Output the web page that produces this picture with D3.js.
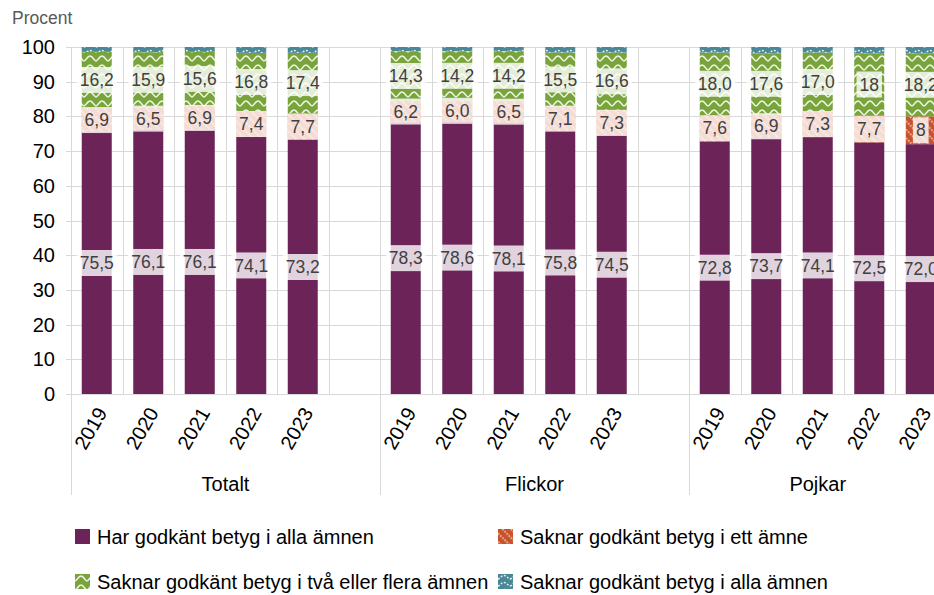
<!DOCTYPE html>
<html>
<head>
<meta charset="utf-8">
<script src="https://cdn.jsdelivr.net/npm/d3@7"></script>
<style>
  body { margin: 0; background: #fff; }
  svg { font-family: "Liberation Sans", Arial, sans-serif; display: block; }
</style>
</head>
<body>
<svg id="chart" width="934" height="595"></svg>
<script>
const groups = ["Totalt", "Flickor", "Pojkar"];
const years = ["2019", "2020", "2021", "2022", "2023"];

// values per group, years in order (Totalt, Flickor, Pojkar), as printed in the chart
const harGodkant = ["75,5", "76,1", "76,1", "74,1", "73,2",
                    "78,3", "78,6", "78,1", "75,8", "74,5",
                    "72,8", "73,7", "74,1", "72,5", "72,0"];
const saknarEtt = ["6,9", "6,5", "6,9", "7,4", "7,7",
                   "6,2", "6,0", "6,5", "7,1", "7,3",
                   "7,6", "6,9", "7,3", "7,7", "8"];
const saknarTvaPlus = ["16,2", "15,9", "15,6", "16,8", "17,4",
                       "14,3", "14,2", "14,2", "15,5", "16,6",
                       "18,0", "17,6", "17,0", "18", "18,2"];
// thin top segment, no labels in the chart
const saknarAlla = [1.4, 1.5, 1.4, 1.7, 1.7,
                    1.2, 1.2, 1.2, 1.6, 1.6,
                    1.6, 1.8, 1.6, 1.8, 1.8];
const yTicks = [0, 10, 20, 30, 40, 50, 60, 70, 80, 90, 100];

const seriesNames = [
  "Har godkänt betyg i alla ämnen",
  "Saknar godkänt betyg i ett ämne",
  "Saknar godkänt betyg i två eller flera ämnen",
  "Saknar godkänt betyg i alla ämnen"
];

const num = s => +String(s).replace(",", ".");

const rows = [];
groups.forEach((g, gi) => {
  years.forEach((yr, yi) => {
    const i = gi * years.length + yi;
    rows.push({
      slot: g + "|" + yr, group: g, year: yr,
      har: num(harGodkant[i]), ett: num(saknarEtt[i]),
      tva: num(saknarTvaPlus[i]), alla: saknarAlla[i],
      labels: { har: harGodkant[i], ett: saknarEtt[i], tva: saknarTvaPlus[i] }
    });
  });
});

// slots incl. an empty spacer after every group except the last
const slots = [];
groups.forEach((g, gi) => {
  years.forEach(yr => slots.push(g + "|" + yr));
  if (gi < groups.length - 1) slots.push(g + "|gap");
});

const plotLeft = 71, step = 51.5, plotTop = 47, plotBottom = 394;
const svg = d3.select("#chart");

const x = d3.scaleBand()
  .domain(slots)
  .range([plotLeft, plotLeft + slots.length * step])
  .paddingInner(0.4175)
  .paddingOuter(0.4175 / 2);
const y = d3.scaleLinear().domain([0, 100]).range([plotBottom, plotTop]);

// patterns
const defs = svg.append("defs");
const pEtt = defs.append("pattern").attr("id", "pat-ett")
  .attr("patternUnits", "userSpaceOnUse").attr("width", 6).attr("height", 6)
  .attr("patternTransform", "rotate(-45)");
pEtt.append("rect").attr("width", 6).attr("height", 6).attr("fill", "#c9522a");
pEtt.append("line").attr("x1", 3).attr("y1", 0).attr("x2", 3).attr("y2", 6)
  .attr("stroke", "#f3d7cc").attr("stroke-width", 1.2).attr("stroke-dasharray", "2,1");

const pTva = defs.append("pattern").attr("id", "pat-tva")
  .attr("patternUnits", "userSpaceOnUse").attr("width", 12).attr("height", 9);
pTva.append("rect").attr("width", 12).attr("height", 9).attr("fill", "#78a43b");
pTva.append("path").attr("d", "M0,7 C2,7 3,2 6,2 C9,2 10,7 12,7")
  .attr("fill", "none").attr("stroke", "#eef5e4").attr("stroke-width", 1.6);

const pAlla = defs.append("pattern").attr("id", "pat-alla")
  .attr("patternUnits", "userSpaceOnUse").attr("width", 12).attr("height", 7);
pAlla.append("rect").attr("width", 12).attr("height", 7).attr("fill", "#4a8797");
pAlla.append("path").attr("d", "M0,5 C2,5 3,1.5 6,1.5 C9,1.5 10,5 12,5")
  .attr("fill", "none").attr("stroke", "#e4f0f2").attr("stroke-width", 1.4)
  .attr("stroke-dasharray", "2,1.5");

const fills = ["#6b2358", "url(#pat-ett)", "url(#pat-tva)", "url(#pat-alla)"];

const gridColor = "#d9d9d9";

// horizontal gridlines + tick marks
svg.append("g").selectAll("line").data(yTicks).join("line")
  .attr("x1", plotLeft - 5).attr("x2", 934)
  .attr("y1", d => Math.round(y(d)) + 0.5).attr("y2", d => Math.round(y(d)) + 0.5)
  .attr("stroke", gridColor).attr("stroke-width", 1);

// vertical gridlines at every slot boundary
const bounds = d3.range(slots.length + 1).map(i => plotLeft + i * step);
svg.append("g").selectAll("line").data(bounds).join("line")
  .attr("x1", d => Math.round(d) + 0.5).attr("x2", d => Math.round(d) + 0.5)
  .attr("y1", plotTop).attr("y2", plotBottom)
  .attr("stroke", gridColor).attr("stroke-width", 1);

// group separators below the axis
const groupStarts = [0, 6, 12, 17].map(i => plotLeft + i * step);
svg.append("g").selectAll("line").data(groupStarts).join("line")
  .attr("x1", d => Math.round(d) + 0.5).attr("x2", d => Math.round(d) + 0.5)
  .attr("y1", plotBottom).attr("y2", 495)
  .attr("stroke", gridColor).attr("stroke-width", 1);

// y tick labels
svg.append("g").selectAll("text").data(yTicks).join("text")
  .attr("x", 55).attr("y", d => y(d)).attr("dy", "0.35em")
  .attr("text-anchor", "end").attr("font-size", 20).attr("fill", "#000")
  .text(d => d);

svg.append("text").attr("x", 12).attr("y", 24)
  .attr("font-size", 17.5).attr("fill", "#595959").text("Procent");

// stacked bars
const keys = ["har", "ett", "tva", "alla"];
const stacked = d3.stack().keys(keys)(rows);

const barG = svg.append("g");
stacked.forEach((layer, li) => {
  barG.append("g").selectAll("rect").data(layer).join("rect")
    .attr("x", d => x(d.data.slot))
    .attr("width", x.bandwidth())
    .attr("y", d => y(d[1]))
    .attr("height", d => y(d[0]) - y(d[1]))
    .attr("fill", fills[li]);
});

// data labels with white semi-transparent boxes
const labelG = svg.append("g");
stacked.slice(0, 3).forEach(layer => {
  const key = layer.key;
  layer.forEach(d => {
    const cx = x(d.data.slot) + x.bandwidth() / 2;
    const cy = y((d[0] + d[1]) / 2);
    const g = labelG.append("g");
    const box = g.append("rect");
    const t = g.append("text")
      .attr("x", cx).attr("y", cy).attr("dy", "0.35em")
      .attr("text-anchor", "middle").attr("font-size", 17.5).attr("fill", "#404040")
      .text(d.data.labels[key]);
    const bb = t.node().getBBox();
    box.attr("x", bb.x - 3).attr("y", cy - 13).attr("width", bb.width + 6).attr("height", 26)
      .attr("fill", "#fff").attr("fill-opacity", 0.8);
  });
});

// year labels
svg.append("g").selectAll("text").data(rows).join("text")
  .attr("transform", d => `translate(${x(d.slot) + x.bandwidth() / 2 + 5},${plotBottom + 15}) rotate(-60)`)
  .attr("text-anchor", "end").attr("dy", "0.35em")
  .attr("font-size", 20).attr("fill", "#000")
  .text(d => d.year);

// group labels
const groupSpans = [[0, 6], [6, 12], [12, 17]];
svg.append("g").selectAll("text").data(groups).join("text")
  .attr("x", (g, i) => plotLeft + (groupSpans[i][0] + groupSpans[i][1]) / 2 * step)
  .attr("y", 491).attr("text-anchor", "middle")
  .attr("font-size", 20).attr("fill", "#000")
  .text(g => g);

// legend
const legendPos = [[75, 529], [498, 529], [75, 574], [498, 574]];
const legend = svg.append("g").selectAll("g").data(seriesNames).join("g")
  .attr("transform", (d, i) => `translate(${legendPos[i][0]},${legendPos[i][1]})`);
legend.append("rect").attr("width", 15).attr("height", 15)
  .attr("fill", (d, i) => fills[i]);
legend.append("text").attr("x", 22).attr("y", 8).attr("dy", "0.35em")
  .attr("font-size", 20).attr("fill", "#000")
  .text(d => d);
</script>
</body>
</html>
